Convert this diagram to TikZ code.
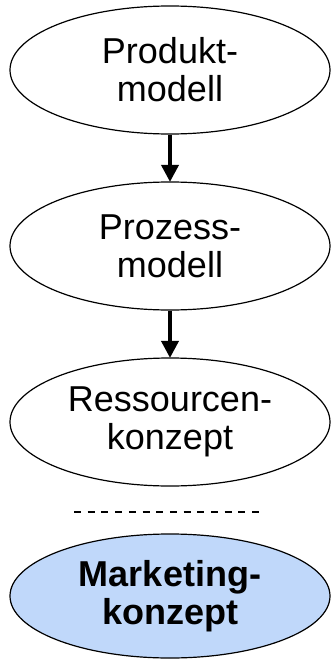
\documentclass[tikz,border=0pt]{standalone}
\usepackage{fontspec}
\setmainfont{Liberation Sans}
\usetikzlibrary{shapes.geometric,arrows.meta}
\definecolor{lightblue}{RGB}{192,216,250}
\begin{document}
\begin{tikzpicture}[x=1pt,y=-1pt,
  ell/.style={ellipse,draw=black,line width=1.2pt,fill=white,inner sep=0pt,
    minimum width=320pt,minimum height=128pt,align=center,
    font=\fontsize{36}{38}\selectfont},
  arr/.style={line width=3.8pt,-{Triangle[length=17pt,width=17pt]},shorten >=-0.5pt},
  sep/.style={line width=2.6pt,dash pattern=on 7pt off 6.7pt}]
\useasboundingbox (0,0) rectangle (331,661);
\node[ell] (a) at (170,70) {Produkt-\\modell};
\node[ell] (b) at (170,246) {Prozess-\\modell};
\node[ell] (c) at (170,422) {Ressourcen-\\konzept};
\node[ell,fill=lightblue,minimum height=124pt,font=\fontsize{36}{38}\selectfont\bfseries] (d) at (170,596) {Marketing-\\konzept};
\draw[arr] (a) -- (b);
\draw[arr] (b) -- (c);
\coordinate (s1) at (74,512);
\coordinate (s2) at (265,512);
\draw[sep] (s1) -- (s2);
\end{tikzpicture}
\end{document}
